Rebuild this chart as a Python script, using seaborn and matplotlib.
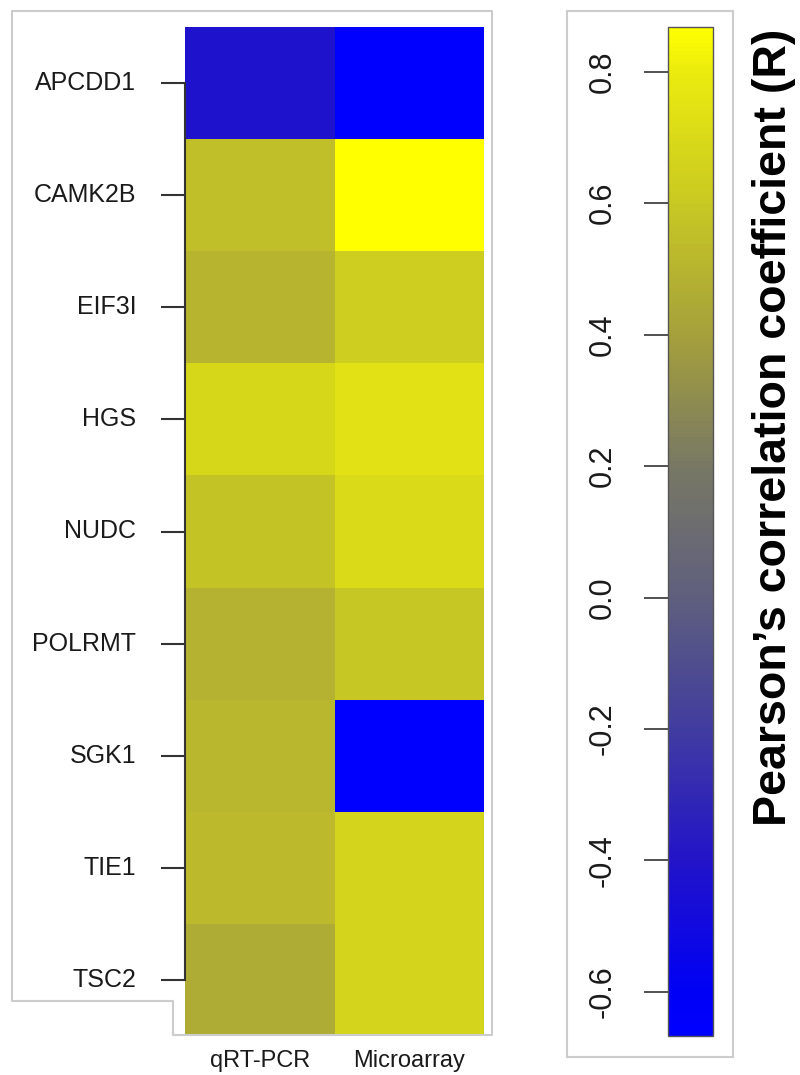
import numpy as np
import pandas as pd
import matplotlib
matplotlib.use("Agg")
import matplotlib.pyplot as plt
from matplotlib.colors import LinearSegmentedColormap
from matplotlib.patches import Rectangle
from matplotlib.lines import Line2D
import seaborn as sns

genes = ["APCDD1", "CAMK2B", "EIF3I", "HGS", "NUDC", "POLRMT", "SGK1", "TIE1", "TSC2"]
methods = ["qRT-PCR", "Microarray"]
qrt_pcr = [-0.42, 0.554, 0.497, 0.686, 0.571, 0.486, 0.514, 0.531, 0.457]
microarray = [-0.667, 0.868, 0.629, 0.737, 0.703, 0.589, -0.66, 0.669, 0.669]
cbar_ticks = [-0.6, -0.4, -0.2, 0.0, 0.2, 0.4, 0.6, 0.8]
cbar_label = "Pearson\u2019s correlation coefficient (R)"

# colour stops (value, colour)
stop_values = [-0.667, -0.6, -0.4, -0.2, 0.0, 0.2, 0.4, 0.6, 0.8, 0.868]
stop_colors = ["#0000ff", "#0000f5", "#2314c8", "#413ca0", "#5f5f7d",
               "#787864", "#a5a03c", "#c8c823", "#ebeb0f", "#ffff00"]

sns.set_style("white")
plt.rcParams["font.family"] = ["Liberation Sans", "DejaVu Sans"]

df = pd.DataFrame({methods[0]: qrt_pcr, methods[1]: microarray}, index=genes)
vmin, vmax = df.values.min(), df.values.max()
pos = [(v - vmin) / (vmax - vmin) for v in stop_values]
pos[0], pos[-1] = 0.0, 1.0
cmap = LinearSegmentedColormap.from_list("by", list(zip(pos, stop_colors)))

W, H = 800, 1075
fig = plt.figure(figsize=(W / 100, H / 100), dpi=100)
ax = fig.add_axes([185 / W, 1 - 1036 / H, 299 / W, 1009 / H])
cax = fig.add_axes([668 / W, 1 - 1036 / H, 45 / W, 1009 / H])

sns.heatmap(df, ax=ax, cmap=cmap, vmin=vmin, vmax=vmax, cbar_ax=cax,
            xticklabels=True, yticklabels=True)

ax.tick_params(axis="y", left=True, length=17, width=1.5, color="#333333",
               labelsize=18, pad=18, labelcolor="#1a1a1a")
ax.tick_params(axis="x", bottom=False, length=0, labelsize=17, pad=10,
               labelcolor="#1a1a1a")
plt.setp(ax.get_yticklabels(), rotation=0)
plt.setp(ax.get_xticklabels(), rotation=0)
ax.spines["left"].set_visible(True)
ax.spines["left"].set_bounds(0.5, len(genes) - 0.5)
ax.spines["left"].set_linewidth(1.5)
ax.spines["left"].set_color("#333333")

cbar = ax.collections[0].colorbar
cax.yaxis.set_ticks_position("left")
cax.set_yticks(cbar_ticks)
cax.set_yticklabels([f"{t:.1f}" for t in cbar_ticks], rotation=90, va="center",
                    fontsize=22, color="#1a1a1a")
cax.tick_params(axis="y", length=17, width=1.2, color="#333333", pad=19)
cbar.outline.set_edgecolor("#555555")
cbar.outline.set_linewidth(1.0)
cax.yaxis.set_label_position("right")
cax.set_ylabel(cbar_label, fontsize=33.5, fontweight="bold", rotation=90,
               labelpad=28, color="#000000")
cax.yaxis.label.set_y(0.603)

# light panel outlines
fig.add_artist(Rectangle((567 / W, 1 - 1057 / H), 166 / W, 1046 / H,
                         transform=fig.transFigure, fill=False,
                         edgecolor="#cccccc", lw=1.5))
px = [12, 492, 492, 173, 173, 12, 12]
py = [11, 11, 1035, 1035, 1001, 1001, 11]
fig.add_artist(Line2D([x / W for x in px], [1 - y / H for y in py],
                      transform=fig.transFigure, color="#cccccc", lw=1.5))

fig.savefig("out.png", dpi=100)
